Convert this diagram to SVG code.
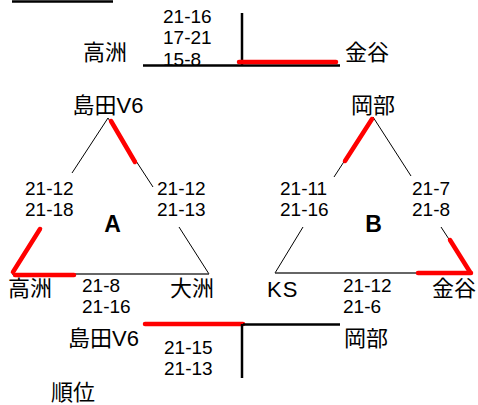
<svg xmlns="http://www.w3.org/2000/svg" width="478" height="405" viewBox="0 0 478 405">
<style>
text{font-family:"Liberation Sans","Noto Sans CJK JP",sans-serif;fill:#000}
.n{font-size:19px}
.j{font-size:22px}
.g{font-size:23px;font-weight:bold}
.thin{stroke:#000;stroke-width:1;fill:none}
.base{stroke:#333;stroke-width:1.5;fill:none}
.bk{stroke:#000;stroke-width:2.5;fill:none}
.red{stroke:#f00;stroke-width:4.5;fill:none;stroke-linecap:round}
</style>
<rect width="478" height="405" fill="#fff"/>
<g id="connectors">
<line class="bk" x1="12" y1="1.5" x2="113" y2="1.5"/>
<line class="bk" x1="242" y1="13" x2="242" y2="65"/>
<line class="bk" x1="143" y1="65.5" x2="340" y2="65.5"/>
<line class="red" x1="239" y1="62" x2="336" y2="62"/>
<line class="thin" x1="108" y1="118" x2="72" y2="173"/>
<line class="thin" x1="41" y1="227" x2="12" y2="273"/>
<line class="thin" x1="108" y1="118" x2="153" y2="187"/>
<line class="thin" x1="179" y1="227" x2="209" y2="274"/>
<line class="base" x1="12" y1="274" x2="209" y2="274"/>
<line class="red" x1="111" y1="121" x2="135" y2="162"/>
<line class="red" x1="40" y1="229" x2="13" y2="272"/>
<line class="red" x1="15" y1="275" x2="74" y2="275"/>
<line class="thin" x1="373" y1="117" x2="334" y2="177"/>
<line class="thin" x1="303" y1="227" x2="275" y2="273"/>
<line class="thin" x1="373" y1="117" x2="411" y2="176"/>
<line class="thin" x1="441" y1="227" x2="471" y2="273"/>
<line class="base" x1="275" y1="273" x2="471" y2="273"/>
<line class="red" x1="372" y1="119" x2="345" y2="161"/>
<line class="red" x1="450" y1="240" x2="470" y2="272"/>
<line class="red" x1="418" y1="273" x2="471" y2="273"/>
<line class="red" x1="145" y1="324" x2="243" y2="324"/>
<line class="bk" x1="243" y1="324.5" x2="340" y2="324.5"/>
<line class="bk" x1="242" y1="324" x2="242" y2="378"/>
</g>
<g id="final-top">
<text class="n" x="163" y="23">21-16</text>
<text class="n" x="163" y="44">17-21</text>
<text class="n" x="163" y="66">15-8</text>
<text class="j" x="83" y="60">高洲</text>
<text class="j" x="345" y="60">金谷</text>
</g>
<g id="group-a">
<text class="j" x="108" y="113" text-anchor="middle">島田V6</text>
<text class="n" x="25" y="195">21-12</text>
<text class="n" x="25" y="216">21-18</text>
<text class="n" x="157" y="195">21-12</text>
<text class="n" x="157" y="216">21-13</text>
<text class="g" x="112.5" y="232" text-anchor="middle">A</text>
<text class="j" x="8" y="296">高洲</text>
<text class="n" x="82" y="292">21-8</text>
<text class="n" x="82" y="313">21-16</text>
<text class="j" x="170" y="296">大洲</text>
</g>
<g id="group-b">
<text class="j" x="373" y="113" text-anchor="middle">岡部</text>
<text class="n" x="280" y="195">21-11</text>
<text class="n" x="280" y="216">21-16</text>
<text class="n" x="412" y="195">21-7</text>
<text class="n" x="412" y="216">21-8</text>
<text class="g" x="373.5" y="232" text-anchor="middle">B</text>
<text class="j" x="267" y="297" font-size="23" letter-spacing="1">KS</text>
<text class="n" x="343" y="292">21-12</text>
<text class="n" x="343" y="313">21-6</text>
<text class="j" x="432" y="296">金谷</text>
</g>
<g id="final-bottom">
<text class="j" x="68" y="346">島田V6</text>
<text class="n" x="164" y="354">21-15</text>
<text class="n" x="164" y="375">21-13</text>
<text class="j" x="344" y="346">岡部</text>
<text class="j" x="51" y="400">順位</text>
</g>
</svg>
